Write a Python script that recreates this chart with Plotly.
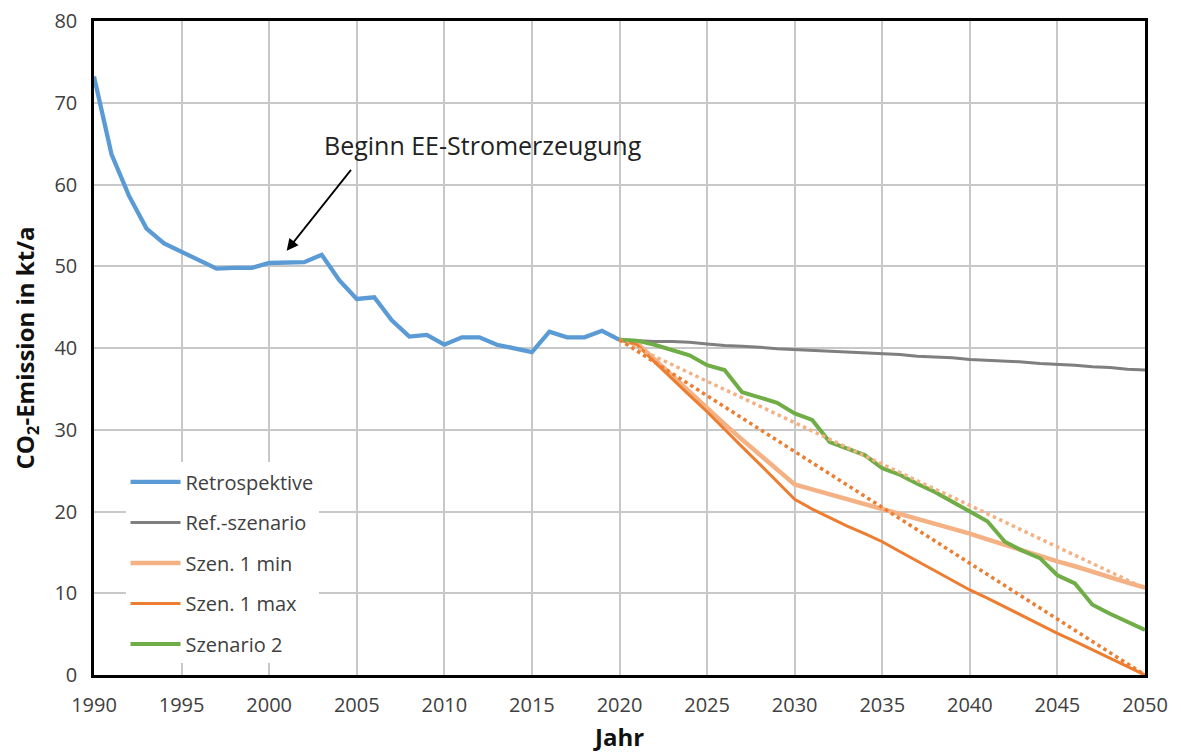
import plotly.graph_objects as go

# ---- data ----
years_retro = [1990, 1991, 1992, 1993, 1994, 1995, 1996, 1997, 1998, 1999,
               2000, 2001, 2002, 2003, 2004, 2005, 2006, 2007, 2008, 2009,
               2010, 2011, 2012, 2013, 2014, 2015, 2016, 2017, 2018, 2019, 2020]
retrospektive = [73.2, 63.7, 58.6, 54.6, 52.8, 51.8, 50.7, 49.7, 49.8, 49.8,
                 50.4, 50.4, 50.5, 51.4, 48.3, 46.0, 46.2, 43.4, 41.4, 41.6,
                 40.4, 41.3, 41.3, 40.4, 40.0, 39.5, 42.0, 41.3, 41.3, 42.1, 41.0]

years_future = [2020, 2021, 2022, 2023, 2024, 2025, 2026, 2027, 2028, 2029,
                2030, 2031, 2032, 2033, 2034, 2035, 2036, 2037, 2038, 2039,
                2040, 2041, 2042, 2043, 2044, 2045, 2046, 2047, 2048, 2049, 2050]
ref_szenario = [41.0, 40.9, 40.8, 40.8, 40.7, 40.5, 40.3, 40.2, 40.1, 39.9,
                39.8, 39.7, 39.6, 39.5, 39.4, 39.3, 39.2, 39.0, 38.9, 38.8,
                38.6, 38.5, 38.4, 38.3, 38.1, 38.0, 37.9, 37.7, 37.6, 37.4, 37.3]
szen1_min = [41.0, 40.6, 38.6, 36.6, 34.6, 32.6, 30.7, 28.8, 27.0, 25.1,
             23.3, 22.7, 22.1, 21.5, 21.0, 20.4, 19.8, 19.2, 18.6, 17.9,
             17.3, 16.6, 15.9, 15.3, 14.6, 13.9, 13.3, 12.6, 12.0, 11.3, 10.7]
szen1_max = [41.0, 40.4, 38.3, 36.2, 34.2, 32.2, 30.0, 27.9, 25.8, 23.6,
             21.5, 20.3, 19.2, 18.2, 17.3, 16.3, 15.1, 13.9, 12.7, 11.6,
             10.4, 9.4, 8.3, 7.2, 6.2, 5.1, 4.1, 3.1, 2.0, 1.0, 0.0]
szenario2 = [41.0, 40.9, 40.4, 39.8, 39.1, 37.9, 37.3, 34.6, 34.0, 33.3,
             32.0, 31.2, 28.5, 27.7, 26.9, 25.3, 24.5, 23.4, 22.4, 21.2,
             20.0, 18.8, 16.3, 15.2, 14.3, 12.2, 11.2, 8.6, 7.5, 6.5, 5.5]

trend_years = [2020, 2050]
trend_min = [41.0, 10.6]
trend_max = [41.0, 0.0]

x_ticks = [1990, 1995, 2000, 2005, 2010, 2015, 2020, 2025, 2030, 2035, 2040, 2045, 2050]
y_ticks = [0, 10, 20, 30, 40, 50, 60, 70, 80]

C_BLUE = "#5B9BD5"
C_GRAY = "#7F7F7F"
C_LORANGE = "#F4B183"
C_ORANGE = "#ED7D31"
C_GREEN = "#70AD47"

FONT = "Open Sans"

fig = go.Figure()

fig.add_trace(go.Scatter(x=years_retro, y=retrospektive, mode="lines", name="Retrospektive",
                         line=dict(color=C_BLUE, width=4.3), legendgroup="a"))
fig.add_trace(go.Scatter(x=years_future, y=ref_szenario, mode="lines", name="Ref.-szenario",
                         line=dict(color=C_GRAY, width=3), legendgroup="b"))
fig.add_trace(go.Scatter(x=years_future, y=szen1_min, mode="lines", name="Szen. 1 min",
                         line=dict(color=C_LORANGE, width=4.5), legendgroup="c"))
fig.add_trace(go.Scatter(x=years_future, y=szen1_max, mode="lines", name="Szen. 1 max",
                         line=dict(color=C_ORANGE, width=3), legendgroup="d"))
fig.add_trace(go.Scatter(x=years_future, y=szenario2, mode="lines", name="Szenario 2",
                         line=dict(color=C_GREEN, width=4), legendgroup="e"))
fig.add_trace(go.Scatter(x=trend_years, y=trend_min, mode="lines", showlegend=False,
                         line=dict(color=C_LORANGE, width=3.5, dash="dot"), hoverinfo="skip"))
fig.add_trace(go.Scatter(x=trend_years, y=trend_max, mode="lines", showlegend=False,
                         line=dict(color=C_ORANGE, width=3.5, dash="dot"), hoverinfo="skip"))

# annotation text and arrow
fig.add_annotation(x=2012.2, y=64.8, xref="x", yref="y", text="Beginn EE-Stromerzeugung",
                   showarrow=False, font=dict(family=FONT, size=25, color="#222222"))
fig.add_annotation(x=2001.0, y=51.9, ax=2004.9, ay=62.4, xref="x", yref="y",
                   axref="x", ayref="y", text=" ", showarrow=True, standoff=0,
                   arrowhead=2, arrowsize=1.3, arrowwidth=1.8, arrowcolor="#000000")

fig.update_layout(
    width=1165, height=745,
    margin=dict(l=86, r=28, t=13, b=78, autoexpand=False),
    paper_bgcolor="white", plot_bgcolor="white",
    font=dict(family=FONT, size=20, color="#404040"),
    showlegend=True,
    legend=dict(x=0.03, y=0.325, xanchor="left", yanchor="top", bgcolor="white",
                font=dict(family=FONT, size=20, color="#404040"), tracegroupgap=11.5,
                itemwidth=50),
    xaxis=dict(range=[1990, 2050], tickvals=x_ticks, ticktext=[str(v) for v in x_ticks],
               showgrid=True, gridcolor="#C8C8C8", gridwidth=2, automargin=False,
               showline=True, linecolor="black", linewidth=2.5, mirror=True,
               ticks="", ticklabelstandoff=10, zeroline=False, ticklabeloverflow="allow",
               tickfont=dict(family=FONT, size=20, color="#404040"),
               title=dict(text="<b>Jahr</b>", font=dict(family=FONT, size=24, color="#111111"),
                          standoff=16)),
    yaxis=dict(range=[0, 80], tickvals=y_ticks, ticktext=[str(v) for v in y_ticks],
               showgrid=True, gridcolor="#C8C8C8", gridwidth=2, automargin=False,
               showline=True, linecolor="black", linewidth=2.5, mirror=True,
               ticks="", ticklabelstandoff=10, zeroline=False, ticklabeloverflow="allow",
               tickfont=dict(family=FONT, size=20, color="#404040"),
               title=dict(text="<b>CO<sub>2</sub>-Emission in kt/a</b>",
                          font=dict(family=FONT, size=24, color="#111111"), standoff=19)),
)

fig.write_html("out.html")
